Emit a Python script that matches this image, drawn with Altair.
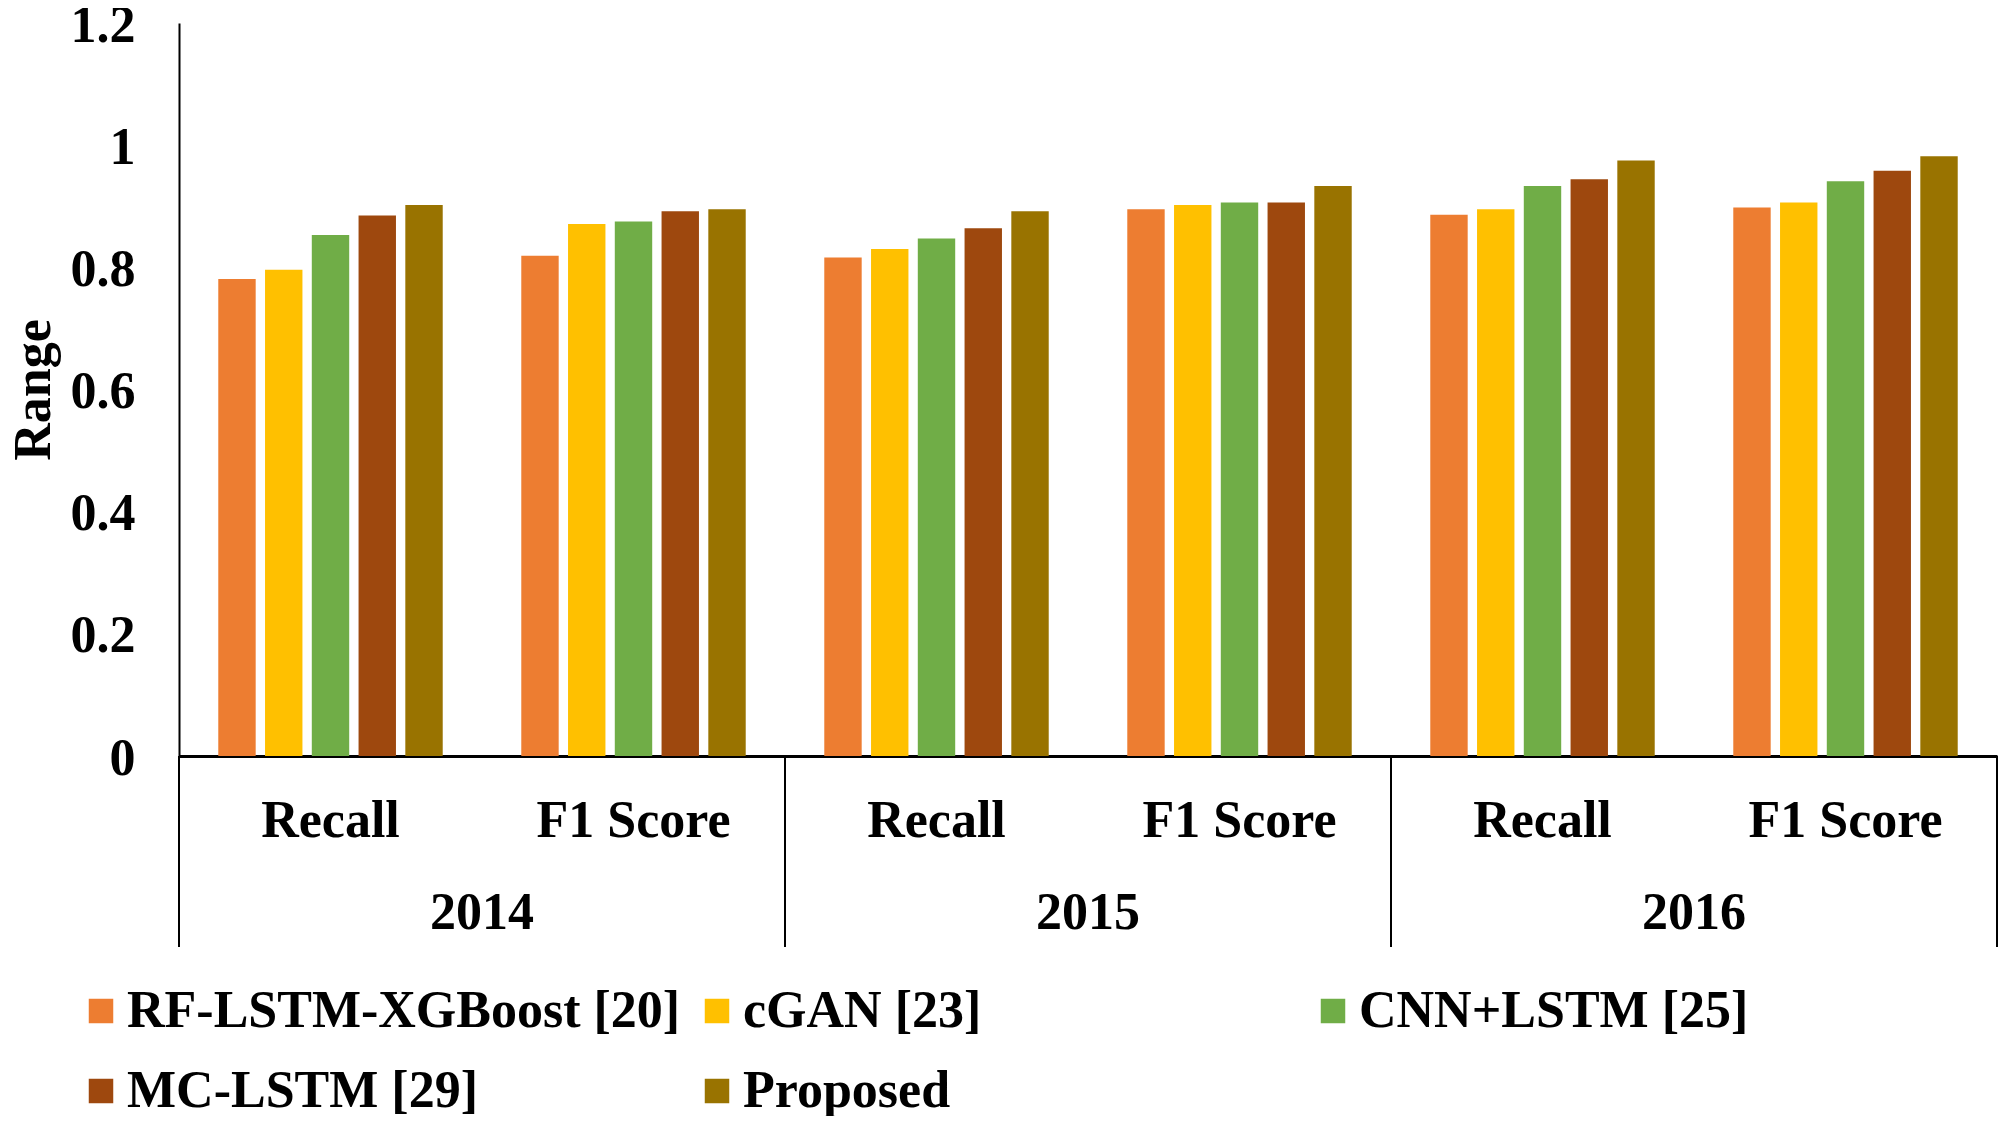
import altair as alt
import pandas as pd

years = ["2014", "2015", "2016"]
metrics = ["Recall", "F1 Score"]
models = ["RF-LSTM-XGBoost [20]", "cGAN [23]", "CNN+LSTM [25]", "MC-LSTM [29]", "Proposed"]
colors = ["#ED7D31", "#FFC000", "#70AD47", "#9E480E", "#997300"]

# values per model, ordered 2014 Recall, 2014 F1, 2015 Recall, 2015 F1, 2016 Recall, 2016 F1
rf_lstm_xgb = [0.781, 0.819, 0.816, 0.895, 0.886, 0.898]
cgan = [0.796, 0.871, 0.830, 0.902, 0.895, 0.906]
cnn_lstm = [0.853, 0.875, 0.847, 0.906, 0.933, 0.941]
mc_lstm = [0.885, 0.892, 0.864, 0.906, 0.944, 0.958]
proposed = [0.902, 0.895, 0.892, 0.933, 0.975, 0.982]
series = [rf_lstm_xgb, cgan, cnn_lstm, mc_lstm, proposed]

groups = [f"{y}|{m}" for y in years for m in metrics]

rows = []
for model, vals in zip(models, series):
    for g, v in zip(groups, vals):
        rows.append({"group": g, "model": model, "value": v})
df = pd.DataFrame(rows)

FONT = "Liberation Serif"
FS = 52
H = 733

xscale = alt.Scale(domain=groups, paddingInner=0, paddingOuter=0)

bars = alt.Chart(df).mark_bar().encode(
    x=alt.X("group:N", scale=xscale, sort=groups,
            axis=alt.Axis(title=None, labelAngle=0, ticks=False,
                          labelExpr="split(datum.label, '|')[1]",
                          labelFont=FONT, labelFontSize=FS, labelFontWeight="bold",
                          labelColor="black", labelBaseline="alphabetic", labelPadding=80,
                          domainColor="black", domainWidth=3, labelLimit=1000)),
    xOffset=alt.XOffset("model:N", sort=models,
                        scale=alt.Scale(domain=models, paddingInner=0.2, paddingOuter=0.84)),
    y=alt.Y("value:Q", scale=alt.Scale(domain=[0, 1.2]),
            axis=alt.Axis(title="Range", values=[0, 0.2, 0.4, 0.6, 0.8, 1.0, 1.2],
                          format=".1~f", grid=False, ticks=False,
                          labelFont=FONT, labelFontSize=FS, labelFontWeight="bold",
                          labelColor="black", labelPadding=44, labelOffset=2,
                          titleFont=FONT, titleFontSize=FS, titleFontWeight="bold",
                          titleColor="black", titleX=-171, titleBaseline="top",
                          domainColor="black", domainWidth=2)),
    color=alt.Color("model:N", sort=models,
                    scale=alt.Scale(domain=models, range=colors),
                    legend=alt.Legend(title=None, orient="none", legendX=-104, legendY=962,
                                      columns=3, direction="horizontal", gridAlign="all",
                                      symbolType="square",
                                      symbolSize=600, symbolStrokeWidth=0,
                                      labelFont=FONT, labelFontSize=FS, labelFontWeight="bold",
                                      labelColor="black", labelOffset=0, labelLimit=1000,
                                      columnPadding=10, rowPadding=28)),
)

sep_start = pd.DataFrame({"group": [f"{y}|Recall" for y in years]})
sep_end = pd.DataFrame({"group": [groups[-1]]})

rules_start = alt.Chart(sep_start).mark_rule(color="black", strokeWidth=2).encode(
    x=alt.X("group:N", scale=xscale, sort=groups, bandPosition=0),
    y=alt.value(H), y2=alt.value(924))
rules_end = alt.Chart(sep_end).mark_rule(color="black", strokeWidth=2).encode(
    x=alt.X("group:N", scale=xscale, sort=groups, bandPosition=1),
    y=alt.value(H), y2=alt.value(924))

year_df = pd.DataFrame({"group": [f"{y}|Recall" for y in years], "year": years})
year_text = alt.Chart(year_df).mark_text(
    font=FONT, fontSize=FS, fontWeight="bold", color="black", baseline="alphabetic", align="center"
).encode(
    x=alt.X("group:N", scale=xscale, sort=groups, bandPosition=1),
    y=alt.value(906),
    text="year:N")

chart = alt.layer(bars, rules_start, rules_end, year_text).properties(
    width=1818, height=H,
    padding={"left": 171, "top": 15, "right": 2, "bottom": 360},
    autosize=alt.AutoSizeParams(type="none"),
).configure_view(stroke=None)

chart.save("out.html", embed_options={"renderer": "svg", "actions": False})
